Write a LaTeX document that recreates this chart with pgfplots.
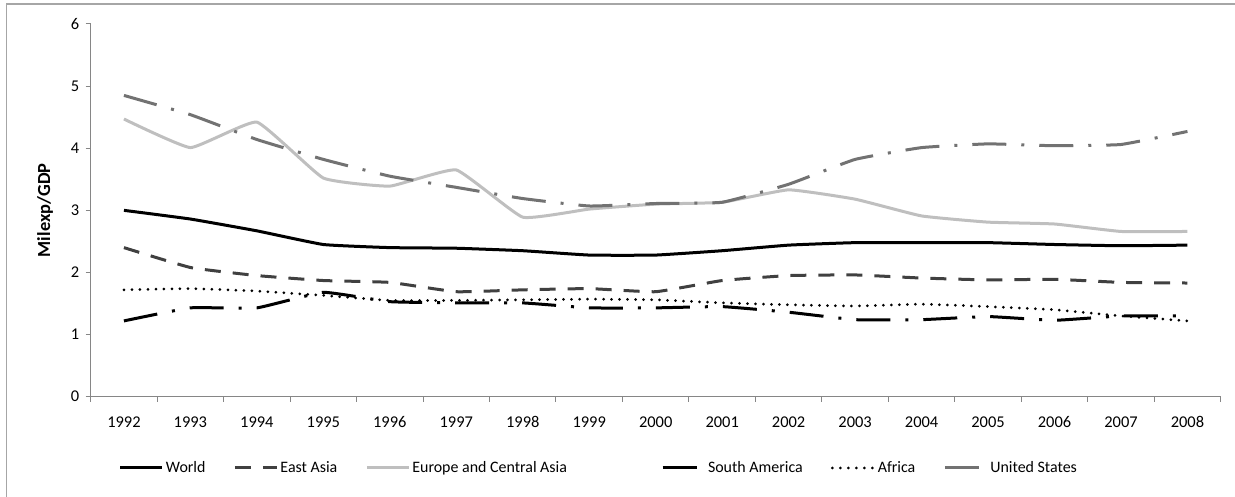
\documentclass[border=0pt]{standalone}
\usepackage{fontspec}
\setmainfont{Carlito}
\usepackage{pgfplots}
\pgfplotsset{compat=1.18}
\definecolor{axisgray}{HTML}{868686}
\definecolor{eastasia}{HTML}{404040}
\definecolor{europe}{HTML}{BFBFBF}
\definecolor{usgray}{HTML}{727272}
\definecolor{framegray}{HTML}{A6A6A6}

\pgfplotstableread{
x world east europe south africa us
0  3.00 2.40 4.47 1.22 1.72 4.85
1  2.86 2.08 4.01 1.43 1.74 4.54
2  2.67 1.95 4.42 1.43 1.70 4.14
3  2.45 1.87 3.52 1.68 1.63 3.82
4  2.40 1.84 3.39 1.53 1.55 3.55
5  2.39 1.69 3.65 1.51 1.55 3.37
6  2.35 1.72 2.89 1.51 1.56 3.19
7  2.28 1.74 3.02 1.43 1.57 3.07
8  2.28 1.69 3.10 1.43 1.56 3.11
9  2.35 1.87 3.13 1.45 1.51 3.13
10 2.44 1.95 3.33 1.36 1.48 3.42
11 2.48 1.96 3.18 1.24 1.46 3.82
12 2.48 1.91 2.91 1.24 1.49 4.01
13 2.48 1.88 2.81 1.29 1.45 4.07
14 2.45 1.89 2.78 1.23 1.40 4.04
15 2.43 1.84 2.66 1.30 1.30 4.06
16 2.44 1.83 2.66 1.30 1.22 4.27
}\datatable

\begin{document}
\begin{tikzpicture}[x=1bp,y=1bp]
\path[use as bounding box] (0,0) rectangle (1235,497);
\draw[framegray, line width=1.5bp] (6.5,0) -- (6.5,493) -- (1235,493);
\begin{axis}[
  at={(90.7bp,100.3bp)}, anchor=south west,
  width=1130bp, height=372.7bp, scale only axis,
  xmin=-0.5, xmax=16.5, ymin=0, ymax=6,
  axis lines*=left,
  axis line style={axisgray, line width=1bp},
  xtick={-0.5,0.5,...,16.5},
  x tick label as interval,
  xticklabels={1992,1993,1994,1995,1996,1997,1998,1999,2000,2001,2002,2003,2004,2005,2006,2007,2008},
  ytick={0,1,2,3,4,5,6},
  /pgf/number format/assume math mode=true,
  tick align=outside,
  major tick length=5bp,
  tick style={axisgray, line width=1bp},
  ticklabel style={font=\fontsize{16.5}{18}\selectfont},
  yticklabel style={xshift=-3bp},
  xticklabel style={anchor=north, text height=11.5bp, text depth=0bp, yshift=-11bp},
  ylabel={Milexp/GDP},
  ylabel style={at={(axis description cs:-0.0404,0.5)}, anchor=center, font=\bfseries\fontsize{18.5}{20}\selectfont},
  legend columns=6,
  legend style={at={(0.4498,-0.1913)}, anchor=center, draw=none, fill=none,
    font=\fontsize{16}{18}\selectfont, column sep=0bp,
    /tikz/every even column/.append style={column sep=26bp},
    nodes={inner sep=2bp}},
  legend image code/.code={\draw[#1] (0bp,0bp) -- (42bp,0bp);},
  every axis plot/.append style={smooth, tension=0.22, line width=3bp},
]
\addplot[black] table[x=x,y=world]{\datatable};
\addlegendentry{World}
\addplot[eastasia, dash pattern=on 16bp off 12bp] table[x=x,y=east]{\datatable};
\addlegendentry{East Asia}
\addplot[europe] table[x=x,y=europe]{\datatable};
\addlegendentry{Europe and Central Asia\rule{66bp}{0pt}}
\addplot[black, dash pattern=on 34bp off 15bp on 3bp off 15bp] table[x=x,y=south]{\datatable};
\addlegendentry{South America}
\addplot[black, line width=3bp, line cap=round, dash pattern=on 0bp off 8bp] table[x=x,y=africa]{\datatable};
\addlegendentry{Africa}
\addplot[usgray, dash pattern=on 34bp off 15bp on 3bp off 15bp] table[x=x,y=us]{\datatable};
\addlegendentry{United States}
\end{axis}
\end{tikzpicture}
\end{document}
